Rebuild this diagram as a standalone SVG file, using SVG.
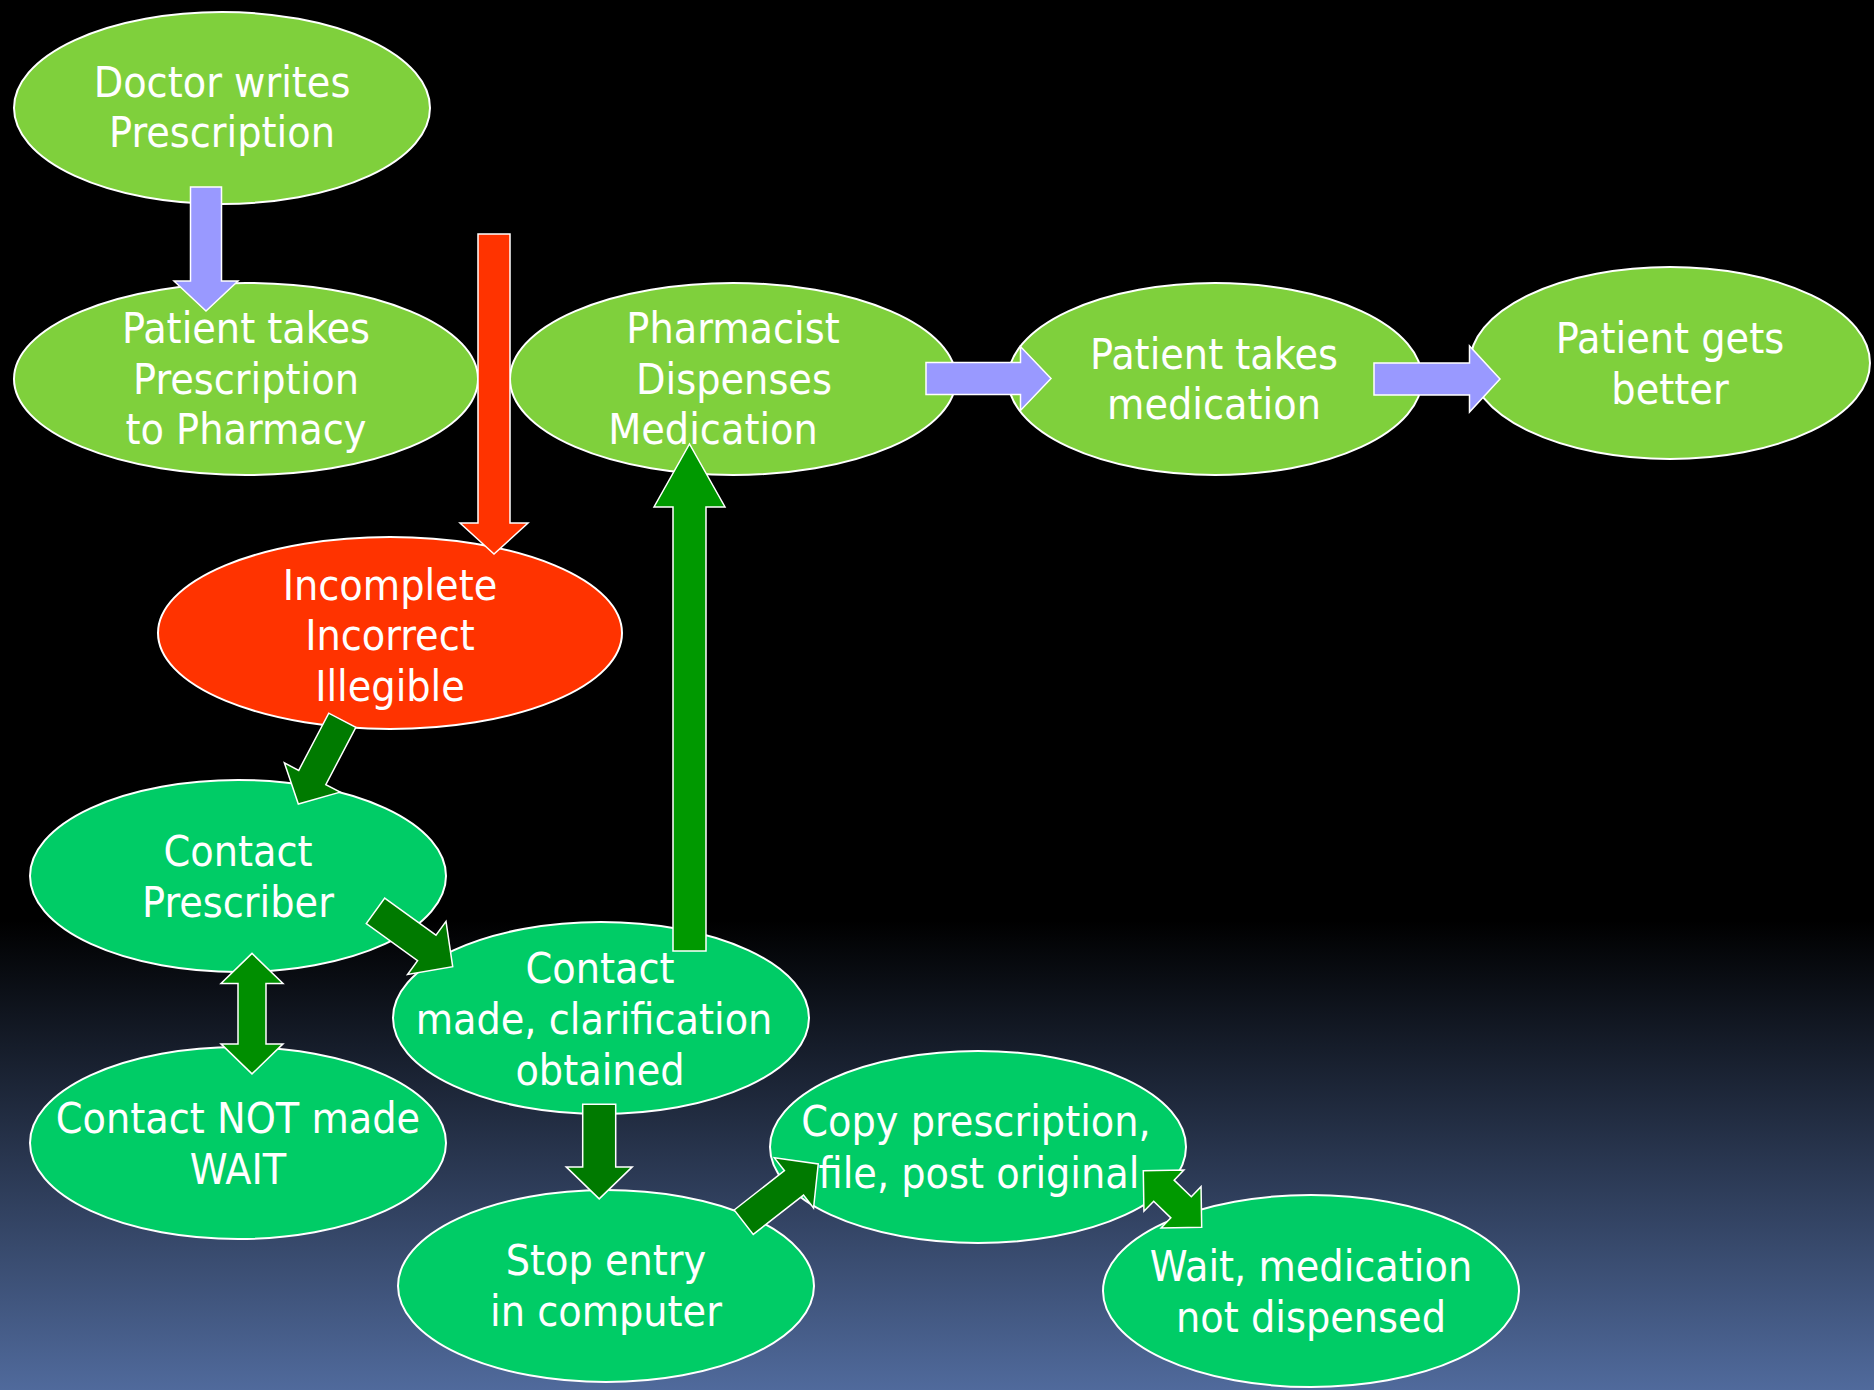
<svg xmlns="http://www.w3.org/2000/svg" width="1874" height="1390" viewBox="0 0 1874 1390">
<defs>
<linearGradient id="bg" x1="0" y1="0" x2="0" y2="1">
<stop offset="0" stop-color="#000000"/>
<stop offset="0.662" stop-color="#000000"/>
<stop offset="1" stop-color="#506A9C"/>
</linearGradient>
<style>
.n ellipse{stroke:#FFFFFF;stroke-width:2}
.lg{fill:#7FD03C}
.rd{fill:#FF3300}
.bg{fill:#00CC66}
.n text{font-family:'DejaVu Sans Condensed','DejaVu Sans',sans-serif;font-stretch:condensed;font-size:42.6px;fill:#FFFFFF;text-anchor:middle}
.a polygon{stroke:#FFFFFF;stroke-width:1.5;stroke-linejoin:miter}
.lav{fill:#9999FF}
.red{fill:#FF3300}
.dk{fill:#007A00}
.md{fill:#008E00}
.lt{fill:#009900}
</style>
</defs>
<rect x="0" y="0" width="1874" height="1390" fill="url(#bg)"/>

<g id="doctor" class="n">
<ellipse class="lg" cx="222" cy="108" rx="208" ry="96"/>
<text x="222" y="97">Doctor writes</text>
<text x="222" y="147">Prescription</text>
</g>
<g id="patient-takes-prescription" class="n">
<ellipse class="lg" cx="246" cy="379" rx="232" ry="96"/>
<text x="246" y="343">Patient takes</text>
<text x="246" y="394">Prescription</text>
<text x="246" y="444">to Pharmacy</text>
</g>
<g id="pharmacist" class="n">
<ellipse class="lg" cx="733" cy="379" rx="223" ry="96"/>
<text x="733" y="343">Pharmacist</text>
<text x="734" y="394">Dispenses</text>
<text x="713" y="444">Medication</text>
</g>
<g id="patient-takes-medication" class="n">
<ellipse class="lg" cx="1215" cy="379" rx="207" ry="96"/>
<text x="1214" y="369">Patient takes</text>
<text x="1214" y="419">medication</text>
</g>
<g id="patient-better" class="n">
<ellipse class="lg" cx="1670" cy="363" rx="200" ry="96"/>
<text x="1670" y="353">Patient gets</text>
<text x="1670" y="404">better</text>
</g>
<g id="incomplete" class="n">
<ellipse class="rd" cx="390" cy="633" rx="232" ry="96"/>
<text x="390" y="600">Incomplete</text>
<text x="390" y="650">Incorrect</text>
<text x="390" y="701">Illegible</text>
</g>
<g id="contact-prescriber" class="n">
<ellipse class="bg" cx="238" cy="876" rx="208" ry="96"/>
<text x="238" y="866">Contact</text>
<text x="238" y="917">Prescriber</text>
</g>
<g id="contact-made" class="n">
<ellipse class="bg" cx="601" cy="1018" rx="208" ry="96"/>
<text x="600" y="983">Contact</text>
<text x="594" y="1034">made, clarification</text>
<text x="600" y="1085">obtained</text>
</g>
<g id="contact-not-made" class="n">
<ellipse class="bg" cx="238" cy="1143" rx="208" ry="96"/>
<text x="238" y="1133">Contact NOT made</text>
<text x="238" y="1184">WAIT</text>
</g>
<g id="stop-entry" class="n">
<ellipse class="bg" cx="606" cy="1286" rx="208" ry="96"/>
<text x="606" y="1275">Stop entry</text>
<text x="606" y="1326">in computer</text>
</g>
<g id="copy-prescription" class="n">
<ellipse class="bg" cx="978" cy="1147" rx="208" ry="96"/>
<text x="976" y="1136">Copy prescription,</text>
<text x="979" y="1188">file, post original</text>
</g>
<g id="wait-not-dispensed" class="n">
<ellipse class="bg" cx="1311" cy="1291" rx="208" ry="96"/>
<text x="1311" y="1281">Wait, medication</text>
<text x="1311" y="1332">not dispensed</text>
</g>

<g id="connectors" class="a">
<polygon class="lav" transform="translate(206,187) rotate(90)" points="0,-15.5 94,-15.5 94,-32 124,0 94,32 94,15.5 0,15.5"/>
<polygon class="red" transform="translate(494,234) rotate(90)" points="0,-16 289,-16 289,-34 320,0 289,34 289,16 0,16"/>
<polygon class="lt" transform="translate(689.5,951) rotate(-90)" points="0,-16.5 444,-16.5 444,-35.5 507,0 444,35.5 444,16.5 0,16.5"/>
<polygon class="lav" transform="translate(926,378.5)" points="0,-16 94.5,-16 94.5,-32 125,0 94.5,32 94.5,16 0,16"/>
<polygon class="lav" transform="translate(1374,379)" points="0,-16 95.5,-16 95.5,-33 126,0 95.5,33 95.5,16 0,16"/>
<polygon class="dk" transform="translate(342.3,720.3) rotate(117.7)" points="0,-15.3 64.6,-15.3 64.6,-31.5 94.6,0 64.6,31.5 64.6,15.3 0,15.3"/>
<polygon class="dk" transform="translate(375.5,910.8) rotate(35.9)" points="0,-15.7 63.3,-15.7 63.3,-32.8 95.3,0 63.3,32.8 63.3,15.7 0,15.7"/>
<polygon class="md" transform="translate(252,953.4) rotate(90)" points="0,0 30,-31 30,-14 90.5,-14 90.5,-31 120.5,0 90.5,31 90.5,14 30,14 30,31"/>
<polygon class="dk" transform="translate(599.2,1104.3) rotate(90)" points="0,-16.5 62.6,-16.5 62.6,-33 94.6,0 62.6,33 62.6,16.5 0,16.5"/>
<polygon class="dk" transform="translate(743.7,1222.2) rotate(-38)" points="0,-15.5 63.8,-15.5 63.8,-31.8 94.6,0 63.8,31.8 63.8,15.5 0,15.5"/>
<polygon class="lt" transform="translate(1143.3,1170.7) rotate(44.1)" points="0,0 28.7,-28.7 28.7,-14.7 52.6,-14.7 52.6,-28.7 81.3,0 52.6,28.7 52.6,14.7 28.7,14.7 28.7,28.7"/>
</g>
</svg>
